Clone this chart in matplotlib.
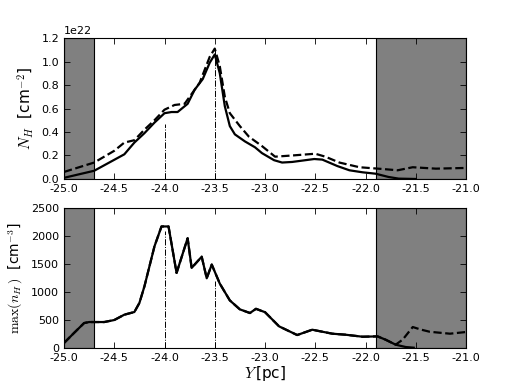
import matplotlib
matplotlib.use("Agg")
import matplotlib.pyplot as plt
import numpy as np

plt.rcParams['mathtext.fontset'] = 'cm'
plt.rcParams['font.family'] = ['DejaVu Sans']

# Top panel: column density N_H (units of 1e22 cm^-2)
top_solid_x = [-25.0, -24.85, -24.7, -24.55, -24.4, -24.3, -24.2, -24.1, -24.0, -23.93, -23.87,
               -23.77, -23.7, -23.62, -23.55, -23.5, -23.45, -23.4, -23.35, -23.3, -23.2, -23.1,
               -23.03, -22.91, -22.83, -22.73, -22.51, -22.43, -22.28, -22.16, -22.03, -21.9,
               -21.77, -21.67, -21.5]
top_solid_y = [0.01, 0.04, 0.07, 0.14, 0.21, 0.31, 0.39, 0.48, 0.56, 0.57, 0.57,
               0.64, 0.76, 0.85, 0.99, 1.06, 0.90, 0.62, 0.45, 0.38, 0.32, 0.27,
               0.22, 0.16, 0.14, 0.145, 0.17, 0.165, 0.11, 0.074, 0.057, 0.045,
               0.017, 0.003, 0.0]
top_dash_x = [-25.0, -24.7, -24.5, -24.4, -24.3, -24.2, -24.1, -24.0, -23.9, -23.8, -23.75,
              -23.65, -23.55, -23.5, -23.45, -23.4, -23.35, -23.25, -23.16, -23.03, -22.9,
              -22.73, -22.5, -22.4, -22.26, -22.06, -21.83, -21.68, -21.53, -21.3, -21.0]
top_dash_y = [0.06, 0.14, 0.24, 0.31, 0.33, 0.42, 0.50, 0.59, 0.63, 0.64, 0.70,
              0.82, 1.04, 1.11, 0.96, 0.70, 0.56, 0.45, 0.36, 0.28, 0.19,
              0.20, 0.215, 0.19, 0.14, 0.10, 0.085, 0.074, 0.10, 0.088, 0.094]

# Bottom panel: max(n_H) [cm^-3]
bot_solid_x = [-25.0, -24.9, -24.8, -24.75, -24.6, -24.5, -24.4, -24.3, -24.25, -24.2, -24.15,
               -24.1, -24.03, -23.96, -23.88, -23.77, -23.73, -23.63, -23.58, -23.53, -23.45,
               -23.35, -23.25, -23.15, -23.09, -23.0, -22.86, -22.68, -22.53, -22.33, -22.2,
               -22.03, -21.88, -21.8, -21.7, -21.6, -21.52]
bot_solid_y = [90, 270, 446, 464, 464, 500, 595, 643, 804, 1100, 1458,
               1815, 2170, 2170, 1340, 1960, 1430, 1630, 1245, 1490, 1150,
               850, 690, 625, 700, 640, 387, 232, 327, 256, 238,
               202, 208, 149, 60, 18, 6]
bot_dash_x = [-25.0, -24.9, -24.8, -24.75, -24.6, -24.5, -24.4, -24.3, -24.25, -24.2, -24.15,
              -24.1, -24.03, -23.96, -23.88, -23.77, -23.73, -23.63, -23.58, -23.53, -23.45,
              -23.35, -23.25, -23.15, -23.09, -23.0, -22.86, -22.68, -22.53, -22.33, -22.2,
              -22.03, -21.88, -21.8, -21.7, -21.63, -21.53, -21.45, -21.36, -21.16, -21.0]
bot_dash_y = [90, 270, 446, 464, 464, 500, 595, 643, 804, 1100, 1458,
              1815, 2170, 2170, 1340, 1960, 1430, 1630, 1245, 1490, 1150,
              850, 690, 625, 700, 640, 387, 232, 327, 256, 238,
              202, 208, 149, 60, 150, 375, 330, 290, 256, 286]

# Markers (vertical lines) positions and heights
vline_x = [-24.0, -23.5]
top_vline_h = [0.47, 1.10]
bot_vline_h = [2080, 1190]

# Shaded regions
shade_left = (-25.0, -24.7)
shade_right = (-21.9, -21.0)

xticks = [-25.0, -24.5, -24.0, -23.5, -23.0, -22.5, -22.0, -21.5, -21.0]

fig = plt.figure(figsize=(5.18, 3.88), dpi=100)
ax1 = fig.add_axes([0.1236, 0.5387, 0.776, 0.3633])
ax2 = fig.add_axes([0.1236, 0.103, 0.776, 0.361])

scale = 1e22
for ax in (ax1, ax2):
    for (a, b) in (shade_left, shade_right):
        ax.axvspan(a, b, facecolor='0.5', edgecolor='k', lw=0.8, zorder=1)

ax1.plot(top_solid_x, np.array(top_solid_y) * scale, 'k-', lw=1.6, zorder=3)
ax1.plot(top_dash_x, np.array(top_dash_y) * scale, 'k--', lw=1.6, zorder=3)
for xv, h in zip(vline_x, top_vline_h):
    ax1.plot([xv, xv], [0, h * scale], 'k-.', lw=0.7, zorder=2)

ax2.plot(bot_solid_x, bot_solid_y, 'k-', lw=1.6, zorder=3)
ax2.plot(bot_dash_x, bot_dash_y, 'k--', lw=1.6, zorder=3)
for xv, h in zip(vline_x, bot_vline_h):
    ax2.plot([xv, xv], [0, h], 'k-.', lw=0.7, zorder=2)

ax1.set_xlim(-25, -21)
ax1.set_ylim(0, 1.2 * scale)
ax1.set_yticks(np.arange(0, 1.21, 0.2) * scale)
ax2.set_xlim(-25, -21)
ax2.set_ylim(0, 2500)
ax2.set_yticks([0, 500, 1000, 1500, 2000, 2500])

for ax in (ax1, ax2):
    ax.set_xticks(xticks)
    ax.set_xticklabels(['%.1f' % t if t != 0 else '0' for t in xticks])
    ax.tick_params(direction='in', top=True, right=True, labelsize=8, length=4, width=0.6)
    for s in ax.spines.values():
        s.set_linewidth(0.8)

ax1.yaxis.get_offset_text().set_fontsize(8)
ax1.set_ylabel(r'$N_H$  [cm$^{-2}$]', fontsize=11)
ax2.set_ylabel(r'$\mathrm{max}(n_H\,)$  [cm$^{-3}$]', fontsize=10)
ax2.set_xlabel(r'$Y\,$[pc]', fontsize=11, labelpad=1)

fig.savefig('out.png', dpi=100)
